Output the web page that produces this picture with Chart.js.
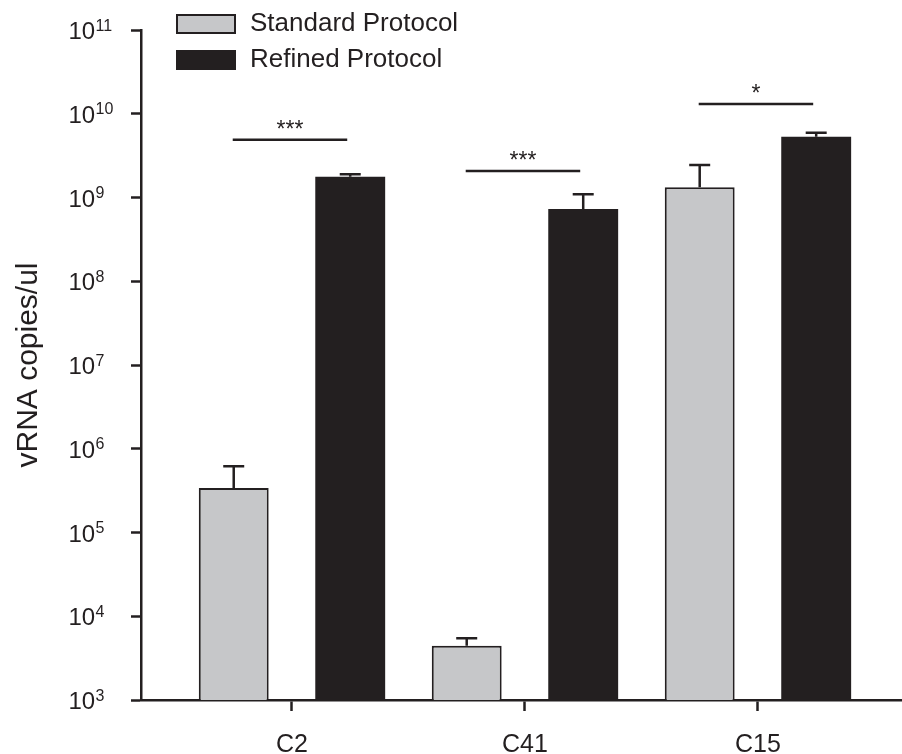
<!DOCTYPE html>
<html>
<head>
<meta charset="utf-8">
<title>vRNA copies/ul</title>
<script src="https://cdn.jsdelivr.net/npm/chart.js@4.4.0/dist/chart.umd.min.js"></script>
<style>
  html, body { margin: 0; padding: 0; background: #fff; }
  #wrap { width: 902px; height: 754px; }
</style>
</head>
<body>
<div id="wrap"><canvas id="myChart" width="902" height="754"></canvas></div>
<script>
// values (log axis)
const categories = ['C2', 'C41', 'C15'];
const standardMean = [3.4e5, 4.45e3, 1.33e9];
const standardUpper = [6.2e5, 5.45e3, 2.44e9];
const refinedMean = [1.77e9, 7.3e8, 5.3e9];
const refinedUpper = [1.89e9, 1.09e9, 5.95e9];
const sigLevel = [4.9e9, 2.07e9, 1.31e10];
const sigStars = ['***', '***', '*'];
const yTicks = [1e3, 1e4, 1e5, 1e6, 1e7, 1e8, 1e9, 1e10, 1e11];

const ink = '#231f20';
const fam = '"Liberation Sans", Arial, Helvetica, sans-serif';

const ctx = document.getElementById('myChart');

// error bars, upward only
const errorBars = {
    id: 'errorBars',
    afterDatasetsDraw(chart) {
        const c = chart.ctx, y = chart.scales.y;
        c.save();
        c.strokeStyle = ink;
        c.lineWidth = 2.5;
        chart.data.datasets.forEach((ds, d) => {
            chart.getDatasetMeta(d).data.forEach((bar, i) => {
                const top = y.getPixelForValue(ds.upper[i]);
                c.beginPath();
                c.moveTo(bar.x, bar.y);
                c.lineTo(bar.x, top);
                c.moveTo(bar.x - 10.5, top);
                c.lineTo(bar.x + 10.5, top);
                c.stroke();
            });
        });
        c.restore();
    }
};

// significance lines + stars
const sigBars = {
    id: 'sigBars',
    afterDatasetsDraw(chart) {
        const c = chart.ctx, y = chart.scales.y;
        const a = chart.getDatasetMeta(0).data, b = chart.getDatasetMeta(1).data;
        c.save();
        c.strokeStyle = ink;
        c.fillStyle = ink;
        c.lineWidth = 2.5;
        c.font = '23px ' + fam;
        c.textAlign = 'center';
        c.textBaseline = 'alphabetic';
        sigLevel.forEach((v, i) => {
            const py = y.getPixelForValue(v);
            const x1 = a[i].x - 1, x2 = b[i].x - 3;
            c.beginPath();
            c.moveTo(x1, py);
            c.lineTo(x2, py);
            c.stroke();
            c.fillText(sigStars[i], (x1 + x2) / 2, py - 3);
        });
        c.restore();
    }
};

// 10^n labels with a small raised exponent
const logLabels = {
    id: 'logLabels',
    afterDraw(chart) {
        const c = chart.ctx, y = chart.scales.y;
        const x0 = chart.chartArea.left - 72.5;
        c.save();
        c.fillStyle = ink;
        c.textAlign = 'left';
        c.textBaseline = 'alphabetic';
        y.ticks.forEach(t => {
            const py = y.getPixelForValue(t.value);
            const exp = Math.round(Math.log10(t.value));
            c.font = '24px ' + fam;
            c.fillText('10', x0, py + 9);
            c.font = '16px ' + fam;
            c.fillText(String(exp), x0 + 27, py + 0.5);
        });
        c.restore();
    }
};

// legend boxes sitting over the top of the plot
const boxLegend = {
    id: 'boxLegend',
    afterDraw(chart) {
        const c = chart.ctx;
        const x = chart.chartArea.left + 35;
        c.save();
        chart.data.datasets.forEach((ds, i) => {
            const top = 14 + i * 36;
            c.fillStyle = ds.backgroundColor;
            c.fillRect(x, top, 60, 20);
            c.strokeStyle = ink;
            c.lineWidth = 2;
            c.strokeRect(x + 1, top + 1, 58, 18);
            c.fillStyle = ink;
            c.font = '26px ' + fam;
            c.textAlign = 'left';
            c.textBaseline = 'middle';
            c.fillText(ds.label, x + 74, top + 10);
        });
        c.restore();
    }
};

new Chart(ctx, {
    type: 'bar',
    data: {
        datasets: [{
            label: 'Standard Protocol',
            data: standardMean.map((v, i) => ({x: i + 1, y: v})),
            upper: standardUpper,
            backgroundColor: '#c6c7c9',
            borderColor: ink,
            borderWidth: 2,
            categoryPercentage: 1.0,
            barPercentage: 0.6,
        }, {
            label: 'Refined Protocol',
            data: refinedMean.map((v, i) => ({x: i + 1, y: v})),
            upper: refinedUpper,
            backgroundColor: ink,
            borderColor: ink,
            borderWidth: 0,
            categoryPercentage: 1.0,
            barPercentage: 0.6,
        }]
    },
    options: {
        responsive: false,
        animation: false,
        layout: { padding: { top: 30, left: 0, right: 1, bottom: 0 } },
        plugins: {
            legend: { display: false },
            tooltip: { enabled: false }
        },
        scales: {
            x: {
                type: 'linear',
                min: 0.352,
                max: 3.614,
                offset: false,
                afterBuildTicks: s => { s.ticks = categories.map((c, i) => ({value: i + 1})); },
                afterFit: s => { s.height = 54; },
                grid: { offset: false, drawOnChartArea: false, drawTicks: true, tickLength: 11, tickColor: ink, tickWidth: 2.5 },
                border: { color: ink, width: 2.5 },
                ticks: {
                    color: ink,
                    padding: 25.5,
                    autoSkip: false,
                    maxRotation: 0,
                    font: { family: fam, size: 25, lineHeight: 0.7 },
                    callback: v => categories[v - 1] || ''
                }
            },
            y: {
                type: 'logarithmic',
                min: 1e3,
                max: 1e11,
                beginAtZero: false,
                afterBuildTicks: s => { s.ticks = yTicks.map(v => ({value: v})); },
                grid: { drawOnChartArea: false, drawTicks: true, tickLength: 10, tickColor: ink, tickWidth: 2.5 },
                border: { color: ink, width: 2.5 },
                ticks: { display: false },
                title: {
                    display: true,
                    text: 'vRNA copies/ul',
                    color: ink,
                    font: { family: fam, size: 30, lineHeight: 1.2 },
                    padding: { top: 11, bottom: 84 }
                }
            }
        }
    },
    plugins: [errorBars, sigBars, logLabels, boxLegend]
});
</script>
</body>
</html>
